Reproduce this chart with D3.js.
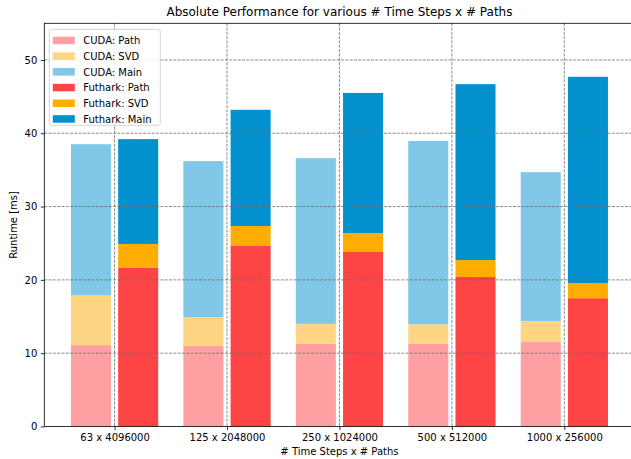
<!DOCTYPE html>
<html>
<head>
<meta charset="utf-8">
<script src="https://cdn.jsdelivr.net/npm/d3@7"></script>
<style>
  body { margin: 0; background: #fff; }
  svg { display: block; font-family: "DejaVu Sans", sans-serif; }
  .grid line { stroke: #6e6e6e; stroke-width: 0.8; stroke-dasharray: 3, 1.3; }
</style>
</head>
<body>
<div id="chart"></div>
<script>
var categories = ["63 x 4096000", "125 x 2048000", "250 x 1024000", "500 x 512000", "1000 x 256000"]

// segment heights [ms]
var cudaPath = [11.1, 11.0, 11.3, 11.3, 11.6]
var cudaSvd = [6.8, 3.9, 2.7, 2.65, 2.8]
var cudaMain = [20.6, 21.3, 22.6, 25.0, 20.3]
var futharkPath = [21.7, 24.7, 23.8, 20.4, 17.5]
var futharkSvd = [3.2, 2.65, 2.6, 2.3, 2.05]
var futharkMain = [14.3, 15.85, 19.1, 24.0, 28.15]

var yTicks = [0, 10, 20, 30, 40, 50]

var W = 631, H = 459
var margin = { top: 23.3, left: 44.3, bottom: 32.5, right: -3.6 }
var width = W - margin.left - margin.right,
  height = H - margin.top - margin.bottom

var x = d3.scaleLinear().domain([-0.625, categories.length - 1 + 0.625]).range([0, width])
var y = d3.scaleLinear().domain([0, 55]).range([height, 0])

var barW = x(0.356) - x(0)
var offset = 0.21

var series = [
  { name: "CUDA: Path", values: cudaPath, color: "#fea0a2", side: -1 },
  { name: "CUDA: SVD", values: cudaSvd, color: "#fed583", side: -1 },
  { name: "CUDA: Main", values: cudaMain, color: "#80c7e8", side: -1 },
  { name: "Futhark: Path", values: futharkPath, color: "#fe4444", side: 1 },
  { name: "Futhark: SVD", values: futharkSvd, color: "#ffad00", side: 1 },
  { name: "Futhark: Main", values: futharkMain, color: "#0291cf", side: 1 }
]

var svg = d3.select("#chart").append("svg")
  .attr("width", W).attr("height", H)

var g = svg.append("g")
  .attr("transform", "translate(" + margin.left + "," + margin.top + ")")

// stack each implementation
;[-1, 1].forEach(function(side) {
  var group = series.filter(function(s) { return s.side === side })
  var rows = categories.map(function(c, i) {
    var r = { i: i }
    group.forEach(function(s) { r[s.name] = s.values[i] })
    return r
  })
  var stacked = d3.stack().keys(group.map(function(s) { return s.name }))(rows)
  stacked.forEach(function(layer, k) {
    g.append("g")
      .attr("fill", group[k].color)
      .selectAll("rect")
      .data(layer)
      .enter().append("rect")
      .attr("x", function(d) { return x(d.data.i + side * offset) - barW / 2 })
      .attr("width", barW)
      .attr("y", function(d) { return y(d[1]) })
      .attr("height", function(d) { return y(d[0]) - y(d[1]) })
  })
})

// grid (drawn over bars)
var grid = g.append("g").attr("class", "grid")
grid.selectAll(".gy").data(yTicks.slice(1)).enter().append("line")
  .attr("x1", 0).attr("x2", width)
  .attr("y1", function(d) { return y(d) }).attr("y2", function(d) { return y(d) })
grid.selectAll(".gx").data(categories).enter().append("line")
  .attr("x1", function(d, i) { return x(i) }).attr("x2", function(d, i) { return x(i) })
  .attr("y1", 0).attr("y2", height)

// axes
var xAxis = d3.axisBottom(x)
  .tickValues(d3.range(categories.length))
  .tickFormat(function(d) { return categories[d] })
  .tickSize(3.5).tickPadding(3.5)
var yAxis = d3.axisLeft(y).tickValues(yTicks).tickSize(3.5).tickPadding(3.5)

var ax = g.append("g").attr("transform", "translate(0," + height + ")").call(xAxis)
var ay = g.append("g").call(yAxis)
;[ax, ay].forEach(function(a) {
  a.select(".domain").remove()
  a.selectAll(".tick line").attr("stroke", "#000").attr("stroke-width", 0.8)
  a.selectAll(".tick text").attr("fill", "#000").style("font-size", "10px").style("font-family", "DejaVu Sans")
})

// frame
g.append("rect")
  .attr("width", width).attr("height", height)
  .attr("fill", "none").attr("stroke", "#000").attr("stroke-width", 0.8)

// titles
svg.append("text")
  .attr("x", margin.left + width / 2).attr("y", 16)
  .attr("text-anchor", "middle").style("font-size", "12px")
  .text("Absolute Performance for various # Time Steps x # Paths")
svg.append("text")
  .attr("x", margin.left + width / 2).attr("y", 455)
  .attr("text-anchor", "middle").style("font-size", "10px")
  .text("# Time Steps x # Paths")
svg.append("text")
  .attr("transform", "translate(17," + (margin.top + height / 2) + ") rotate(-90)")
  .attr("text-anchor", "middle").style("font-size", "10px")
  .text("Runtime [ms]")

// legend
var lg = svg.append("g").attr("transform", "translate(49.3,29.3)")
lg.append("rect")
  .attr("width", 111).attr("height", 96).attr("rx", 2.5)
  .attr("fill", "#fff").attr("fill-opacity", 0.85)
  .attr("stroke", "#ccc").attr("stroke-width", 0.8)
var items = lg.selectAll(".item").data(series).enter().append("g")
  .attr("transform", function(d, i) { return "translate(0," + (7.4 + i * 15.7) + ")" })
items.append("rect").attr("x", 3.5).attr("width", 22).attr("height", 7.5)
  .attr("fill", function(d) { return d.color })
items.append("text").attr("x", 34).attr("y", 7.5)
  .style("font-size", "10px").text(function(d) { return d.name })
</script>
</body>
</html>
